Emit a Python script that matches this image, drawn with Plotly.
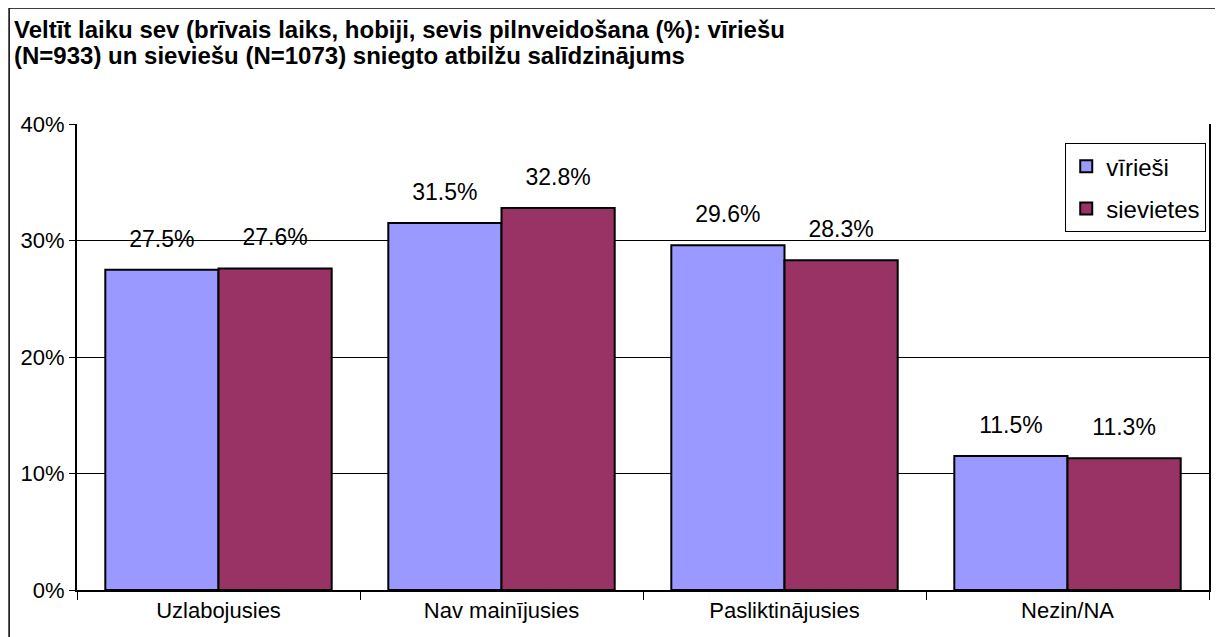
import plotly.graph_objects as go

# data
categories = ['Uzlabojusies', 'Nav mainījusies', 'Pasliktinājusies', 'Nezin/NA']
virieshi = [27.5, 31.5, 29.6, 11.5]
sievietes = [27.6, 32.8, 28.3, 11.3]

title_line1 = 'Veltīt laiku sev (brīvais laiks, hobiji, sevis pilnveidošana (%): vīriešu'
title_line2 = '(N=933) un sieviešu (N=1073) sniegto atbilžu salīdzinājums'

font_family = 'Liberation Sans, Arial, sans-serif'

# the page puts the figure 8px in from the top-left corner
W, H = 1215, 629
L, R, T, B = 69, 12, 116, 47
pw, ph = W - L - R, H - T - B

fig = go.Figure()
series = [('vīrieši', virieshi, '#9999FF'), ('sievietes', sievietes, '#993366')]
for name, vals, color in series:
    fig.add_trace(go.Bar(
        x=categories, y=[v / 100 for v in vals], name=name,
        legendgroup=name, offsetgroup=name,
        marker=dict(color=color, line=dict(color='black', width=2))))
# value labels, lifted above the bars by an invisible marker
for name, vals, color in series:
    fig.add_trace(go.Scatter(
        x=categories, y=[v / 100 for v in vals], mode='markers+text',
        offsetgroup=name, showlegend=False, hoverinfo='skip',
        marker=dict(size=26, opacity=0),
        text=[f'{v:.1f}%' for v in vals], textposition='top center',
        textfont=dict(size=23, color='black'), cliponaxis=False))

fig.update_layout(
    width=W, height=H,
    font=dict(family=font_family, size=22, color='black'),
    paper_bgcolor='white', plot_bgcolor='white',
    margin=dict(l=L, r=R, t=T, b=B),
    barmode='group', bargap=0.2, bargroupgap=0,
    scattermode='group', scattergap=0.2,
    legend=dict(x=0.873, y=0.959, xanchor='left', yanchor='top',
                bordercolor='black', borderwidth=1, bgcolor='white',
                font=dict(size=24), tracegroupgap=8, itemwidth=30),
    showlegend=True,
)
fig.add_annotation(text='<b>' + title_line1 + '</b>', xref='paper', yref='paper',
                   x=(4 - L) / pw, y=(ph + T - 21) / ph, xanchor='left', yanchor='middle',
                   showarrow=False, font=dict(size=24, family=font_family, color='black'))
fig.add_annotation(text='<b>' + title_line2 + '</b>', xref='paper', yref='paper',
                   x=(4 - L) / pw, y=(ph + T - 47) / ph, xanchor='left', yanchor='middle',
                   showarrow=False, font=dict(size=24, family=font_family, color='black'))

fig.update_yaxes(range=[0, 0.4], dtick=0.1, tickformat='.0%',
                 showgrid=True, gridcolor='black', gridwidth=1,
                 showline=True, linecolor='black', linewidth=2, mirror=True,
                 ticks='outside', ticklen=6, tickcolor='black',
                 zeroline=False, tickfont=dict(size=22))
fig.update_xaxes(showline=True, linecolor='black', linewidth=2,
                 ticks='outside', tickson='boundaries', ticklen=8, tickcolor='black',
                 tickfont=dict(size=22), showgrid=False)

# outer chart frame (left and top edges visible)
fig.add_shape(type='rect', xref='paper', yref='paper',
              x0=(1 - L) / pw, x1=1.05, y0=-0.2, y1=(ph + T) / ph,
              line=dict(color='black', width=1.5), layer='below')

fig.write_html('out.html')
